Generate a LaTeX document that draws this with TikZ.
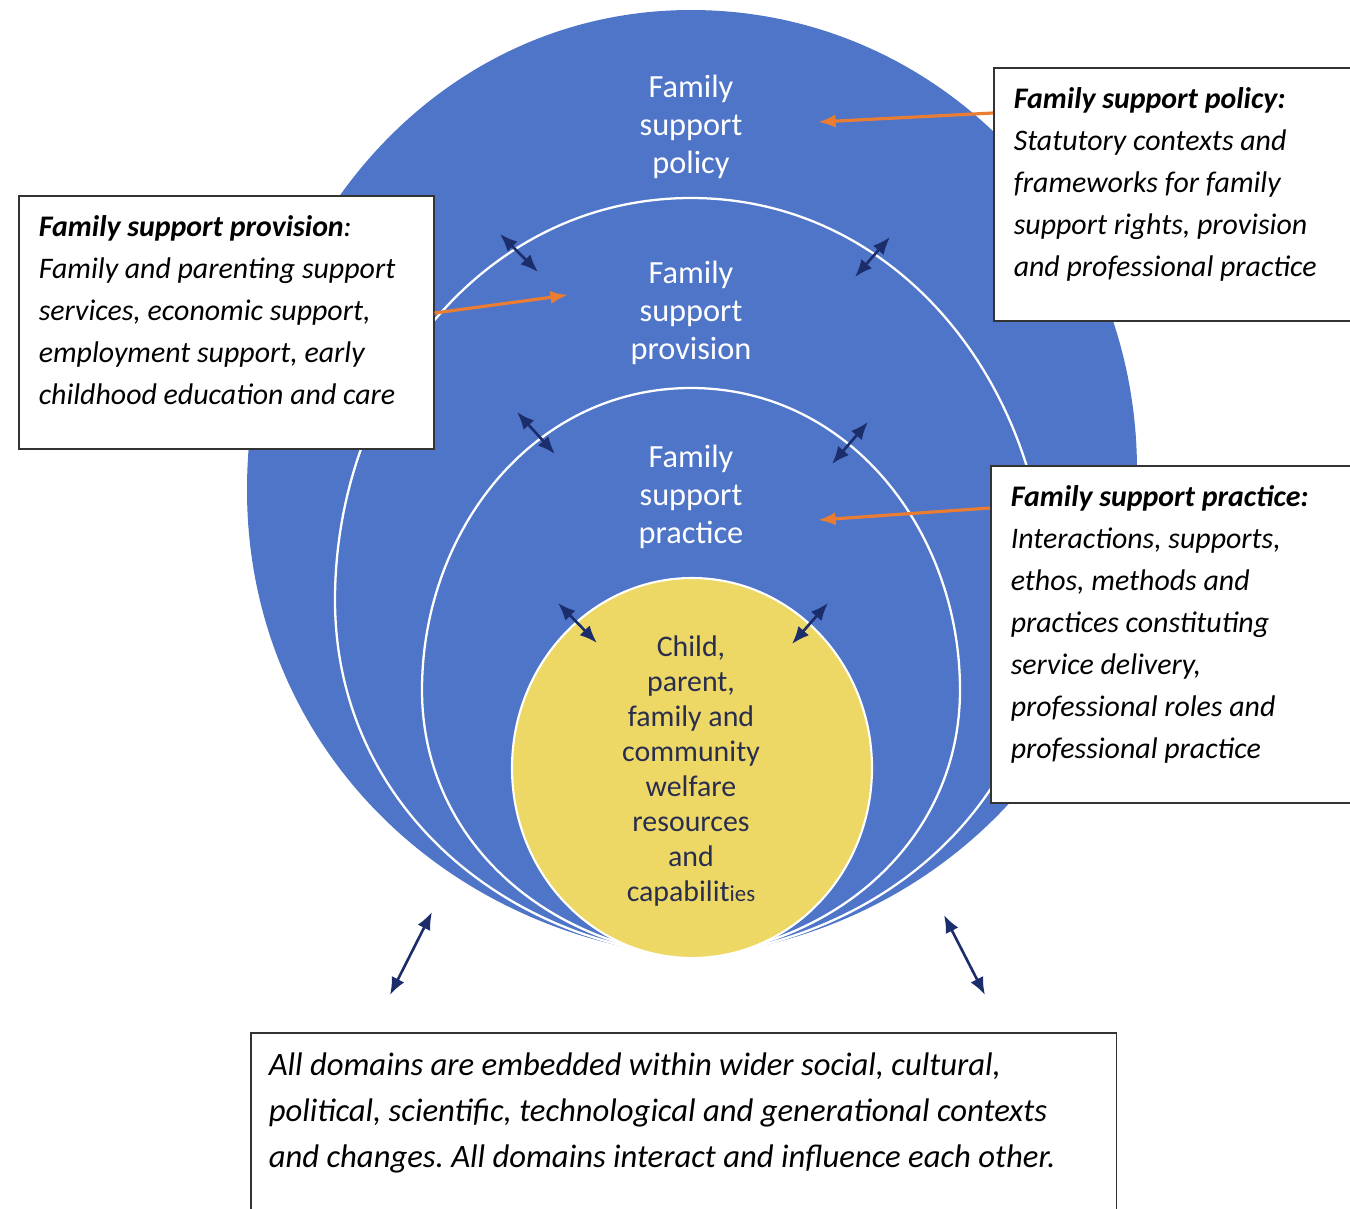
\documentclass[tikz,border=0pt]{standalone}
\usepackage{fontspec}
\setmainfont{Carlito}
\usetikzlibrary{calc,arrows.meta}
\frenchspacing

\definecolor{ringblue}{HTML}{4F75C8}
\definecolor{coreyellow}{HTML}{EED865}
\definecolor{feedorange}{HTML}{EB7D33}
\definecolor{linknavy}{HTML}{1B2D6B}
\definecolor{coretext}{HTML}{2A2E4E}

\newcommand{\boxbody}[3]{\parbox[c][#2][t]{#1}{\raggedright #3}}

\begin{document}
\begin{tikzpicture}[
    x=0.02cm, y=0.02cm,
    ring/.style={draw=white, line width=1.3pt, fill=ringblue},
    infobox/.style={draw=black!80, line width=0.9pt, fill=white, anchor=north west,
        inner xsep=0.4cm, inner ysep=0.4cm, font=\fontsize{17}{23.9}\selectfont\itshape},
    ringlabel/.style={text=white, align=center, font=\fontsize{18.4}{21.6}\selectfont},
    corelabel/.style={text=coretext, align=center, font=\fontsize{17}{19.9}\selectfont},
    feed/.style={-{Latex[length=10pt,width=7.5pt]}, feedorange, line width=1.8pt},
    link/.style={{Latex[length=10pt,width=8pt]}-{Latex[length=10pt,width=8pt]}, linknavy, line width=1.5pt}
    ]

    \useasboundingbox (0,0) rectangle (1350,-1208);

    % nested domains
    \fill[ringblue] (691,-957) to[out=175,in=-90] (247,-490) to[out=90,in=180] (691,-10)
        to[out=0,in=90] (1137,-470) to[out=-90,in=5] (691,-957) -- cycle;
    \draw[ring] (691,-957) to[out=175,in=-90] (335,-600) to[out=90,in=180] (691,-198)
        to[out=0,in=90] (1047,-600) to[out=-90,in=5] (691,-957) -- cycle;
    \draw[ring] (691,-957) to[out=175,in=-90] (422,-690) to[out=90,in=180] (691,-388)
        to[out=0,in=90] (960,-690) to[out=-90,in=5] (691,-957) -- cycle;
    \draw[draw=white, line width=1.2pt, fill=coreyellow] (692,-768) ellipse (180 and 190);

    \node[ringlabel] (policyLabel) at (691,-127) {Family\\support\\policy};
    \node[ringlabel] (provisionLabel) at (691,-313) {Family\\support\\provision};
    \node[ringlabel] (practiceLabel) at (691,-497) {Family\\support\\practice};
    \node[corelabel] (coreLabel) at (691,-771) {Child,\\parent,\\family and\\community\\welfare\\resources\\and\\capabilit{\fontsize{13}{13}\selectfont ies}};

    \node[infobox] (policyBox) at (993,-67) {\boxbody{6.38cm}{4.26cm}{\textbf{Family support policy:}\\
        Statutory contexts and\\ frameworks for family\\ support rights, provision\\ and professional practice}};
    \node[infobox] (provisionBox) at (18,-195) {\boxbody{7.5cm}{4.26cm}{\textbf{Family support provision}:\\
        Family and parenting support\\ services, economic support,\\ employment support, early\\ childhood education and care}};
    \node[infobox] (practiceBox) at (990,-465) {\boxbody{6.44cm}{5.94cm}{\textbf{Family support practice:}\\
        Interactions, supports,\\ ethos, methods and\\ practices constituting\\ service delivery,\\ professional roles and\\ professional practice}};
    \node[infobox, inner xsep=0.36cm, font=\fontsize{18.6}{26.2}\selectfont\itshape] (contextBox) at (250,-1032) {\boxbody{16.6cm}{2.86cm}{All domains are embedded within wider social, cultural,\\
        political, scientific, technological and generational contexts\\ and changes. All domains interact and influence each other.}};

    \coordinate (policyTip) at (818,-122);
    \coordinate (provisionTip) at (568,-295);
    \coordinate (practiceTip) at (818,-520);

    \draw[feed] ($(policyBox.north west)+(0,-46)$) -- (policyTip);
    \draw[feed] ($(provisionBox.north east)+(0,-118)$) -- (provisionTip);
    \draw[feed] ($(practiceBox.north west)+(0,-43)$) -- (practiceTip);

    \foreach \ax/\ay/\bx/\by in {500/234/538/272, 890/237/855/277, 517/412/555/454, 868/422/832/464,
        558/603/597/643, 828/603/792/644, 432/912/390/995, 944/915/985/995}
        \draw[link] (\ax,-\ay) -- (\bx,-\by);

\end{tikzpicture}
\end{document}
